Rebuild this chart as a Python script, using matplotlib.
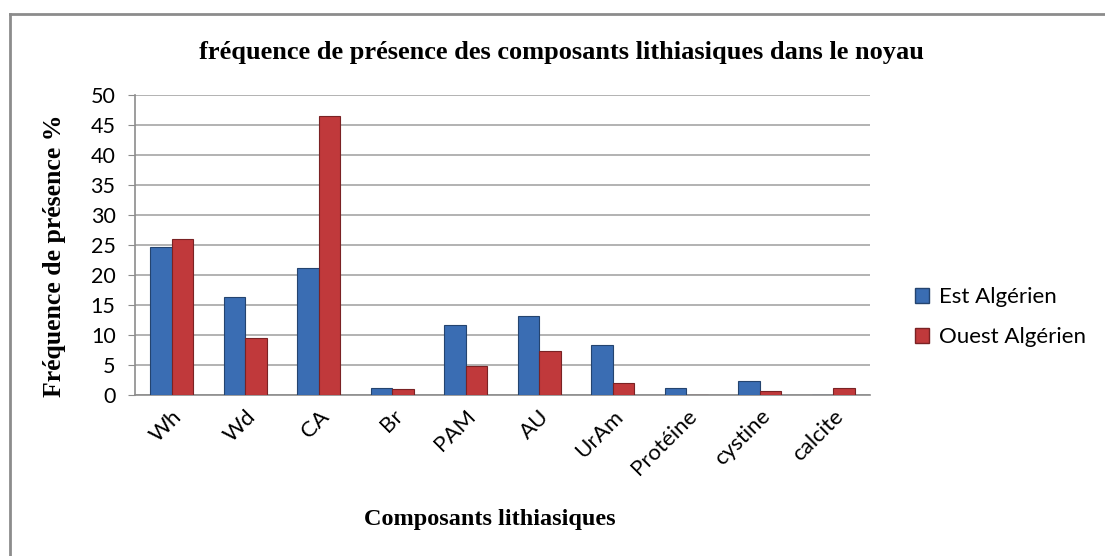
import numpy as np
import matplotlib.pyplot as plt
from matplotlib.lines import Line2D
from matplotlib.patches import Patch

categories = ['Wh', 'Wd', 'CA', 'Br', 'PAM', 'AU', 'UrAm', 'Protéine', 'cystine', 'calcite']
est = [24.7, 16.4, 21.2, 1.2, 11.7, 13.1, 8.3, 1.2, 2.4, 0]
ouest = [26.0, 9.5, 46.5, 0.95, 4.8, 7.3, 2.0, 0, 0.7, 1.2]
series_names = ['Est Algérien', 'Ouest Algérien']

W, H = 1105, 556
fig = plt.figure(figsize=(W / 100, H / 100), dpi=100)

# cadre gris (gauche + haut)
fig.add_artist(Line2D([10 / W, 10 / W], [0, 1 - 14 / H], transform=fig.transFigure,
                      color='#8c8c8c', lw=2))
fig.add_artist(Line2D([10 / W, 1], [1 - 14 / H, 1 - 14 / H], transform=fig.transFigure,
                      color='#8c8c8c', lw=2))

ax = fig.add_axes([135 / W, 1 - 395 / H, (870 - 135) / W, (395 - 95) / H])

x = np.arange(len(categories))
bw = 0.29
ax.bar(x - bw / 2, est, bw, color='#3a6db3', edgecolor='#24446f', lw=0.8, zorder=3)
ax.bar(x + bw / 2, ouest, bw, color='#c0393b', edgecolor='#7a2224', lw=0.8, zorder=3)

ax.set_xlim(-0.5, len(categories) - 0.5)
ax.set_ylim(0, 50)
ax.set_yticks(np.arange(0, 51, 5))
ax.yaxis.grid(True, color='#a6a6a6', lw=1.2, zorder=0)
ax.tick_params(axis='y', length=5, color='#8c8c8c', labelsize=15.5, pad=9)
ax.tick_params(axis='x', length=0, labelsize=16, pad=8)
for lab in ax.get_yticklabels():
    lab.set_family('Lato')
ax.set_xticks(x)
ax.set_xticklabels(categories, rotation=45, ha='right', rotation_mode='anchor', family='Lato')
for s in ['top', 'right']:
    ax.spines[s].set_visible(False)
ax.spines['left'].set_color('#8c8c8c')
ax.spines['bottom'].set_color('#8c8c8c')
ax.spines['left'].set_linewidth(1.2)
ax.spines['bottom'].set_linewidth(1.2)

fig.text(561 / W, 1 - 53 / H, 'fréquence de présence des composants lithiasiques dans le noyau',
         ha='center', va='center', family='Liberation Serif', fontweight='bold', fontsize=19)
fig.text(54 / W, 1 - 256 / H, 'Fréquence de présence %', rotation=90, ha='center', va='center',
         family='Liberation Serif', fontweight='bold', fontsize=18.5)
fig.text(490 / W, 1 - 520 / H, 'Composants lithiasiques', ha='center', va='center',
         family='Liberation Serif', fontweight='bold', fontsize=17.5)

handles = [Patch(facecolor='#3a6db3', edgecolor='#24446f'),
           Patch(facecolor='#c0393b', edgecolor='#7a2224')]
leg = fig.legend(handles, series_names, loc='upper left', bbox_to_anchor=(895 / W, 1 - 267 / H),
                 frameon=False, prop={'family': 'Lato', 'size': 16},
                 handlelength=0.65, handleheight=0.65, handletextpad=0.45, labelspacing=0.9)

fig.savefig('out.png', dpi=100)
